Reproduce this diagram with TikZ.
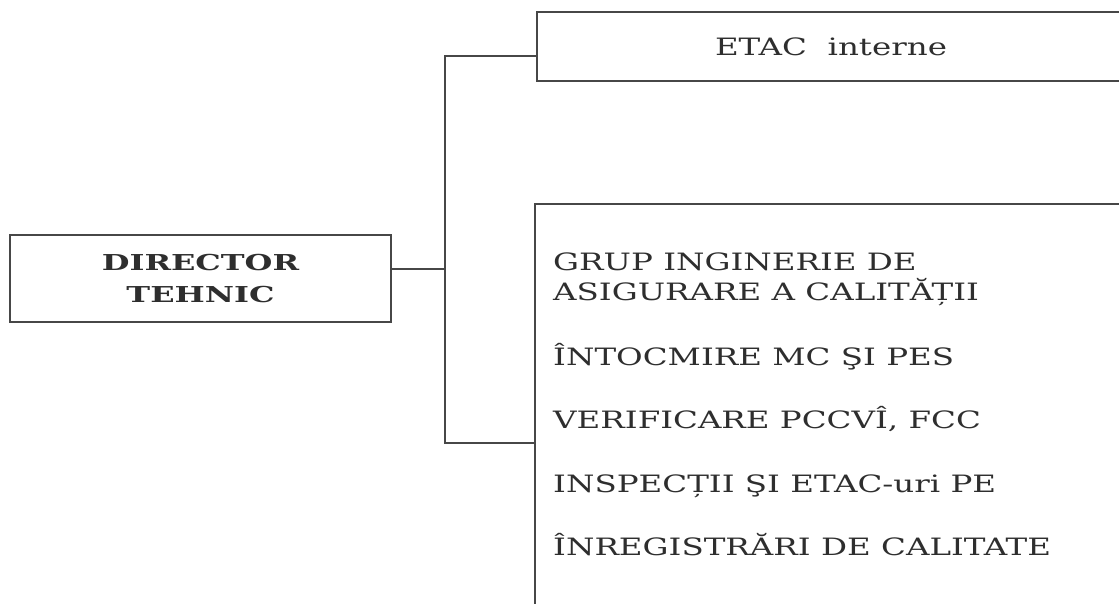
\documentclass[tikz,border=0pt]{standalone}
\usepackage{fontspec}
\newfontfamily\dutyfont[FakeStretch=1.36]{DejaVu Serif}
\newfontfamily\headfont[FakeStretch=1.46]{DejaVu Serif}
\usetikzlibrary{positioning}
\tikzset{
    unit/.style={draw=black!72, line width=1.6pt, inner sep=0pt},
    duty/.style={anchor=base west, inner sep=0pt, text=black!82,
        font=\dutyfont\fontsize{20.4}{26}\selectfont},
    link/.style={draw=black!72, line width=1.6pt},
}

\begin{document}
\begin{tikzpicture}[x=0.03cm, y=-0.03cm]
                \useasboundingbox (0,0) rectangle (1119,603);
                \node[unit, minimum width=11.43cm, minimum height=2.61cm,
                      align=center, text=black!82,
                      font=\headfont\bfseries\fontsize{18.7}{26.5}\selectfont]
                      (dir) at (200.5,278.5) {DIRECTOR\\TEHNIC};
                \node[unit, minimum width=17.64cm, minimum height=2.07cm,
                      text=black!82, font=\dutyfont\fontsize{20.4}{26}\selectfont]
                      (etac) at (831,46.5) {ETAC\ \ interne};
                \node[unit, minimum width=17.7cm, minimum height=12.63cm] (calit) at (830,414.5) {};

                % activities of the quality group
                \node[duty] (grp1) at (553,270) {GRUP INGINERIE DE};
                \node[duty] (grp2) at (553,300) {ASIGURARE A CALITĂȚII};
                \node[duty] (mcpes) at (553,365) {ÎNTOCMIRE MC ŞI PES};
                \node[duty] (pccvi) at (553,428) {VERIFICARE PCCVÎ, FCC};
                \node[duty] (insp) at (553,492) {INSPECȚII ŞI ETAC-uri PE};
                \node[duty] (inreg) at (553,555) {ÎNREGISTRĂRI DE CALITATE};

                \coordinate (spine top) at (445,56);
                \coordinate (spine mid) at (445,269);
                \coordinate (spine bot) at (445,443);
                \draw[link] (dir.east |- spine mid) -- (spine mid);
                \draw[link] (etac.west |- spine top) -- (spine top) -- (spine bot)
                      -- (calit.west |- spine bot);
            \end{tikzpicture}
\end{document}
